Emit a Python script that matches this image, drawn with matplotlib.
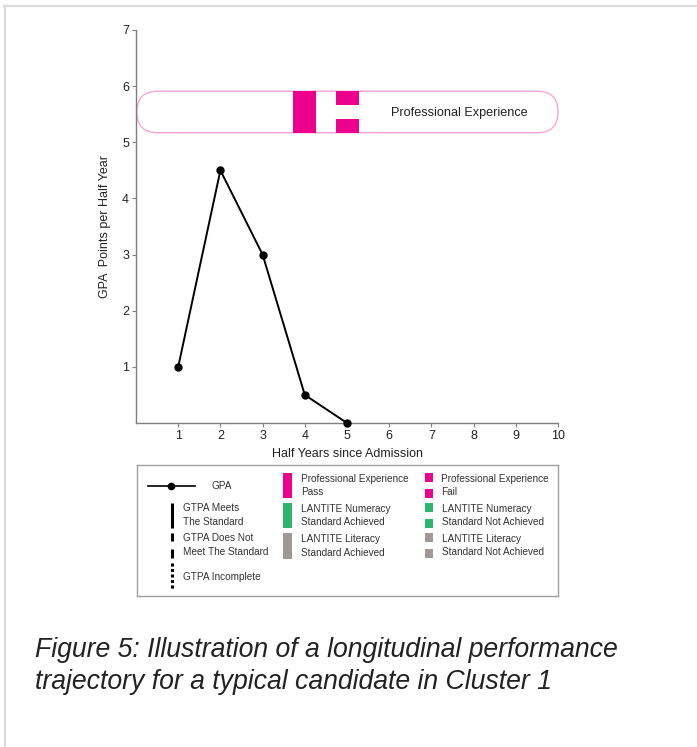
import matplotlib
matplotlib.use("Agg")
import matplotlib.pyplot as plt
from matplotlib.patches import FancyBboxPatch, Rectangle
from matplotlib.lines import Line2D

plt.rcParams['font.family'] = ['Liberation Sans', 'DejaVu Sans']

# ---- data ----
half_years = [1, 2, 3, 4, 5]
gpa = [1, 4.5, 3, 0.5, 0]
pe_pass_x = [4]
pe_fail_x = [5]
x_ticks = [1, 2, 3, 4, 5, 6, 7, 8, 9, 10]
y_ticks = [1, 2, 3, 4, 5, 6, 7]
band_label = "Professional Experience"
caption = ("Figure 5: Illustration of a longitudinal performance\n"
           "trajectory for a typical candidate in Cluster 1")

PINK = '#EC008C'
PINK_LIGHT = '#F7A6D6'
GREEN = '#2FB56B'
GRAY = '#A09894'
SPINE = '#7F7F7F'

W, H = 697, 747
fig = plt.figure(figsize=(W / 100, H / 100), dpi=100)

def fx(px):
    return px / W

def fy(py):
    return 1 - py / H

# border lines of the page
fig.add_artist(Line2D([fx(4), 1], [fy(6), fy(6)], color='#DCDCDC', lw=1.6))
fig.add_artist(Line2D([fx(5), fx(5)], [fy(6), 0], color='#DCDCDC', lw=1.6))

# ---- main axes ----
ax = fig.add_axes([fx(136), fy(423), fx(558) - fx(136), fy(30) - fy(423)])
ax.set_xlim(0, 10)
ax.set_ylim(0, 7)
for s in ['top', 'right']:
    ax.spines[s].set_visible(False)
for s in ['left', 'bottom']:
    ax.spines[s].set_color(SPINE)
    ax.spines[s].set_linewidth(1.0)
ax.set_xticks(x_ticks)
ax.set_yticks(y_ticks)
ax.tick_params(axis='both', length=3, width=0.8, color=SPINE, labelsize=9,
               labelcolor='#222222', pad=2)
ax.set_xlabel("Half Years since Admission", fontsize=9, labelpad=4, color='#222222')
ax.set_ylabel("GPA  Points per Half Year", fontsize=9, labelpad=8, color='#222222')

# Professional experience band
y0, y1 = 5.17, 5.91
xunit = (558 - 136) / 10.0
yunit = (423 - 30) / 7.0
aspect = xunit / yunit
r = (y1 - y0) / 2 / aspect
band = FancyBboxPatch((0.02, y0), 10 - 0.02, y1 - y0,
                      boxstyle=f"round,pad=0,rounding_size={r}",
                      mutation_aspect=aspect, facecolor='white',
                      edgecolor=PINK_LIGHT, lw=1.0, clip_on=False, zorder=2)
ax.add_patch(band)
bw = 0.55
for xp in pe_pass_x:
    ax.add_patch(Rectangle((xp - bw / 2, y0), bw, y1 - y0, color=PINK, lw=0, zorder=3))
for xp in pe_fail_x:
    ax.add_patch(Rectangle((xp - bw / 2 + 0.015, 5.66), bw, y1 - 5.66, color=PINK, lw=0, zorder=3))
    ax.add_patch(Rectangle((xp - bw / 2 + 0.015, y0), bw, 5.41 - y0, color=PINK, lw=0, zorder=3))
ax.text(7.66, 5.53, band_label, fontsize=9.1, ha='center', va='center',
        color='#222222', zorder=4)

# GPA line
ax.plot(half_years, gpa, color='black', lw=1.4, marker='o', markersize=5,
        clip_on=False, zorder=5)

# ---- legend axes (pixel coordinates) ----
lx0, lx1, ly0, ly1 = 137, 558, 465, 596
lax = fig.add_axes([fx(lx0), fy(ly1), fx(lx1) - fx(lx0), fy(ly0) - fy(ly1)])
lax.set_xlim(lx0, lx1)
lax.set_ylim(ly1, ly0)
lax.set_xticks([])
lax.set_yticks([])
for s in lax.spines.values():
    s.set_color('#A0A0A0')
    s.set_linewidth(1.0)

fs = 7.2
tc = '#333333'
# GPA
lax.plot([148, 195], [486, 486], color='black', lw=1.2)
lax.plot([171], [486], 'o', color='black', markersize=4.5)
lax.text(211, 486, "GPA", fontsize=fs, va='center', color=tc)
# GTPA lines
lax.plot([172, 172], [503, 528], color='black', lw=2.2, solid_capstyle='butt')
lax.text(183, 515, "GTPA Meets\nThe Standard", fontsize=fs, va='center', color=tc, linespacing=1.45)
lax.plot([172, 172], [533, 541], color='black', lw=2.2, solid_capstyle='butt')
lax.plot([172, 172], [549, 558], color='black', lw=2.2, solid_capstyle='butt')
lax.text(183, 545, "GTPA Does Not\nMeet The Standard", fontsize=fs, va='center', color=tc, linespacing=1.45)
lax.plot([172, 172], [563, 589], color='black', lw=2.2, linestyle=(0, (1, 0.8)),
         dash_capstyle='butt')
lax.text(183, 577, "GTPA Incomplete", fontsize=fs, va='center', color=tc)
# Pass / achieved bars
for (ya, yb, col, lab) in [(473, 498, PINK, "Professional Experience\nPass"),
                           (503, 528, GREEN, "LANTITE Numeracy\nStandard Achieved"),
                           (533, 559, GRAY, "LANTITE Literacy\nStandard Achieved")]:
    lax.add_patch(Rectangle((283, ya), 9, yb - ya, color=col, lw=0))
    lax.text(301, (ya + yb) / 2, lab, fontsize=fs, va='center', color=tc, linespacing=1.45)
# Fail / not achieved squares
for (ya, col, lab, tx) in [(473, PINK, "Professional Experience\nFail", 441),
                           (503, GREEN, "LANTITE Numeracy\nStandard Not Achieved", 442),
                           (533, GRAY, "LANTITE Literacy\nStandard Not Achieved", 442)]:
    lax.add_patch(Rectangle((425, ya), 8, 9, color=col, lw=0))
    lax.add_patch(Rectangle((425, ya + 16), 8, 9, color=col, lw=0))
    lax.text(tx, ya + 12.5, lab, fontsize=fs, va='center', color=tc, linespacing=1.45)

# caption
for i, line in enumerate(caption.split('\n')):
    fig.text(fx(35), fy(657 + 32 * i), line, fontsize=19.2, style='italic',
             ha='left', va='baseline', color='#222222')

fig.savefig("out.png", dpi=100)
